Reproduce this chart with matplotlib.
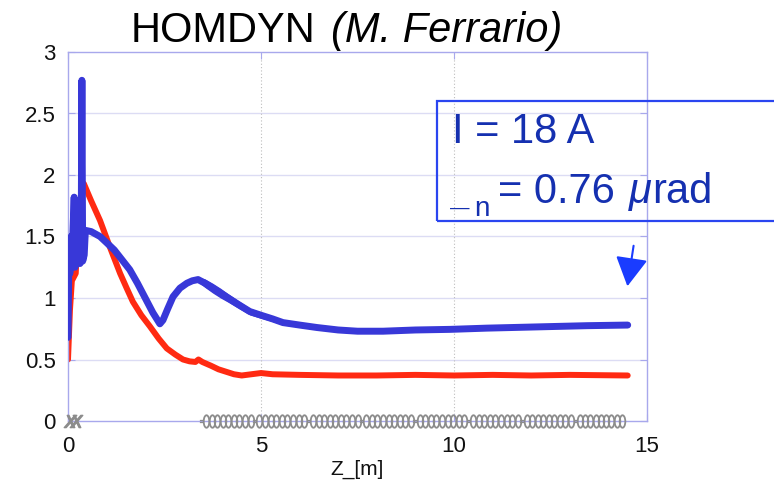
import numpy as np
import matplotlib
matplotlib.use("Agg")
import matplotlib.pyplot as plt
from matplotlib.patches import Rectangle, FancyArrowPatch
from matplotlib.path import Path
from matplotlib.transforms import Affine2D

plt.rcParams['font.family'] = ['Liberation Sans', 'DejaVu Sans']

# ---------------- data ----------------
blue_z = [0.0, 0.02, 0.05, 0.08, 0.10, 0.13, 0.16, 0.18, 0.22, 0.25, 0.28, 0.31, 0.34,
          0.36, 0.38, 0.42, 0.45, 0.6, 0.83, 1.0, 1.2, 1.35, 1.6, 1.8, 2.0, 2.2,
          2.3, 2.38, 2.46, 2.58, 2.72, 2.9, 3.08, 3.22, 3.37, 3.55, 3.75, 3.95, 4.15,
          4.4, 4.71, 5.0, 5.3, 5.57, 6.0, 6.45, 7.0, 7.5, 8.16, 9.0, 9.9, 10.85, 12.15,
          13.45, 14.5]
blue_eps = [0.68, 1.25, 1.20, 1.50, 1.25, 1.55, 1.82, 1.25, 1.50, 1.30, 1.45, 1.28, 1.35,
            2.77, 1.30, 1.35, 1.55, 1.54, 1.50, 1.45, 1.39, 1.33, 1.23, 1.12, 1.00, 0.88,
            0.83, 0.79, 0.82, 0.91, 1.01, 1.08, 1.12, 1.14, 1.15, 1.12, 1.08, 1.04, 1.00,
            0.95, 0.89, 0.86, 0.83, 0.80, 0.78, 0.76, 0.74, 0.73, 0.73, 0.74, 0.745, 0.755, 0.765,
            0.775, 0.78]
blue_band = [0, 0, 0, 0, 0, 0, 0, 0, 0, 0, 0, 0, 0,
             0, 0, 0, 0, 0, 0, 0, 0, 0, 0, 0, 0, 0,
             0, 0, 0, 0, 0, 0, 0, 0, 0.02, 0.035, 0.04, 0.04, 0.035,
             0.032, 0.028, 0.025, 0.022, 0.02, 0.017, 0.014, 0.011, 0.009, 0.008, 0.008, 0.01, 0.012, 0.013,
             0.013, 0.012]

red_z = [0.0, 0.05, 0.10, 0.15, 0.20, 0.25, 0.30, 0.35, 0.41, 0.6, 0.83, 1.09, 1.35, 1.52,
         1.68, 1.9, 2.12, 2.35, 2.56, 2.78, 2.98, 3.15, 3.3, 3.38, 3.48, 3.7, 3.9, 4.1, 4.3, 4.5,
         4.75, 5.0, 5.3, 6.0, 7.0, 8.0, 9.0, 10.0, 11.0, 12.0, 13.0, 14.5]
red_eps = [0.50, 0.90, 1.14, 1.17, 1.20, 1.50, 1.70, 1.85, 1.93, 1.79, 1.63, 1.41, 1.20, 1.08,
           0.97, 0.86, 0.77, 0.67, 0.59, 0.54, 0.50, 0.485, 0.48, 0.50, 0.48, 0.45, 0.42, 0.40, 0.38, 0.37,
           0.38, 0.39, 0.38, 0.375, 0.37, 0.37, 0.375, 0.37, 0.375, 0.37, 0.375, 0.37]

coil_edges = [3.45, 4.83, 6.22, 7.6, 8.98, 10.37, 11.75, 13.13, 14.45]
gun_coil_z = [0.06, 0.2]

x_ticks = [0, 5, 10, 15]
y_ticks = [0, 0.5, 1, 1.5, 2, 2.5, 3]
y_ticklabels = ["0", "0.5", "1", "1.5", "2", "2.5", "3"]

BLUE = "#3838d8"
RED = "#ff2a12"
SPINE = "#a8a8ec"
GRAY = "#8c8c8c"

W, H = 774, 486
fig = plt.figure(figsize=(W / 100, H / 100), dpi=100)
ax = fig.add_axes([68 / W, 1 - 421 / H, (647 - 68) / W, (421 - 52) / H])

ax.set_xlim(0, 15)
ax.set_ylim(0, 3)

# grid
for yv in y_ticks[1:-1]:
    ax.axhline(yv, color="#dcdcf4", lw=1.0, zorder=0)
for xv in x_ticks[1:-1]:
    ax.axvline(xv, color="#bdbdbd", lw=0.8, ls=(0, (1, 2)), zorder=0)

# curves
bz = np.array(blue_z); be = np.array(blue_eps); bb = np.array(blue_band)
ax.fill_between(bz, be - bb, be + bb, color=BLUE, lw=0, zorder=3)
ax.plot(blue_z, blue_eps, color=BLUE, lw=5, solid_joinstyle="round",
        solid_capstyle="round", zorder=3)
ax.plot(red_z, red_eps, color=RED, lw=4.3, solid_joinstyle="round",
        solid_capstyle="round", zorder=2)

# solenoid / linac section glyphs at the bottom
ring = Path.unit_circle().transformed(Affine2D().scale(0.45, 1.0))
for a, b in zip(coil_edges[:-1], coil_edges[1:]):
    n = 9
    xs = np.linspace(a + 0.13, b - 0.1, n)
    ax.plot(xs, [0] * n, ls="none", marker=ring, ms=9, mfc="none", mec=GRAY,
            mew=1.3, clip_on=False, zorder=5)
    for dy in (0.012, -0.012):
        ax.plot([a - 0.03, a + 0.05], [dy, dy], color=GRAY, lw=0.9,
                clip_on=False, zorder=5)
ax.plot(gun_coil_z, [0] * len(gun_coil_z), ls="none", marker="$X$", ms=9,
        color=GRAY, clip_on=False, zorder=5)

# axes styling
for s in ax.spines.values():
    s.set_color(SPINE)
    s.set_linewidth(1.0)
ax.set_xticks(x_ticks)
ax.set_xticklabels([str(v) for v in x_ticks])
ax.set_yticks(y_ticks)
ax.set_yticklabels(y_ticklabels)
ax.tick_params(direction="in", length=5, color=SPINE, top=True, right=True,
               labelsize=16, labelcolor="#111111")
ax.tick_params(axis="x", pad=11)
ax.tick_params(axis="y", pad=9)
ax.set_xlabel("Z_[m]", fontsize=15, color="#111111", labelpad=2)

# title
fig.text(131 / W, 1 - 42 / H, "HOMDYN", fontsize=30, color="black", va="baseline")
fig.text(331 / W, 1 - 42 / H, "(M. Ferrario)", fontsize=30, style="italic",
         color="black", va="baseline")

# annotation box
TXT = "#1530b0"
fig.patches.append(Rectangle((437 / W, 1 - 221 / H), 400 / W, 120 / H,
                             transform=fig.transFigure, fill=False,
                             edgecolor="#2a45f0", lw=1.6))
fig.text(452 / W, 1 - 143 / H, "I = 18 A", fontsize=30, color=TXT, va="baseline")
fig.text(450 / W, 1 - 213 / H, "\u2014", fontsize=14, color=TXT, va="baseline")
fig.text(474 / W, 1 - 216 / H, "n", fontsize=20, color=TXT, va="baseline")
fig.text(498 / W, 1 - 203 / H, "= 0.76", fontsize=30, color=TXT, va="baseline")
fig.text(629 / W, 1 - 203 / H, "\u03bc", fontsize=30, style="italic", color=TXT, va="baseline")
fig.text(652 / W, 1 - 203 / H, "rad", fontsize=30, color=TXT, va="baseline")

fig.patches.append(FancyArrowPatch(
    (634 / W, 1 - 243 / H), (627 / W, 1 - 289 / H), transform=fig.transFigure,
    arrowstyle="-|>,head_length=9,head_width=5", color="#1a3cff", lw=1.5,
    mutation_scale=2))

fig.savefig("out.png", dpi=100)
